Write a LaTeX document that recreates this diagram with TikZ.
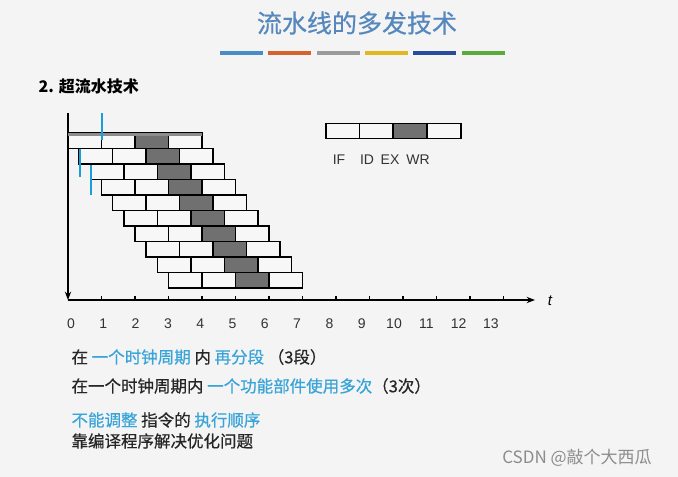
\documentclass[tikz,border=0pt]{standalone}
\usepackage{fontspec}
\setmainfont{Liberation Sans}
\newfontfamily\cjk{Noto Sans CJK SC}
\newfontfamily\cjkmed[FakeBold=0.6]{Noto Sans CJK SC}
\usetikzlibrary{arrows.meta}

\definecolor{bgcol}{RGB}{244,244,244}
\definecolor{titleblue}{RGB}{86,136,190}
\definecolor{hiblue}{RGB}{56,164,216}
\definecolor{markblue}{RGB}{25,158,220}
\definecolor{exgray}{RGB}{112,112,112}
\definecolor{barblue}{RGB}{74,140,198}
\definecolor{barorange}{RGB}{210,100,45}
\definecolor{bargray}{RGB}{155,155,155}
\definecolor{baryellow}{RGB}{225,185,30}
\definecolor{bardarkblue}{RGB}{40,75,155}
\definecolor{bargreen}{RGB}{90,170,60}

\tikzset{
  cell/.style={draw, line width=1.6pt, fill=white!97!black},
  excell/.style={cell, fill=exgray},
  bodytext/.style={anchor=west, font=\cjkmed\fontsize{16.5}{20}\selectfont, text=black!85},
  ticklabel/.style={font=\fontsize{14}{16}\selectfont, text=black!80}
}

\begin{document}
\begin{tikzpicture}[x=1pt, y=-1pt, >=Stealth]
  % Background
  \fill[bgcol] (0,0) rectangle (678,477);
  \useasboundingbox (0,0) rectangle (678,477);

  % Title and colour bars
  \node[text=titleblue, font=\cjkmed\fontsize{25}{30}\selectfont] (title) at (357,23) {流水线的多发技术};
  \foreach \c [count=\i from 0] in {barblue,barorange,bargray,baryellow,bardarkblue,bargreen}
    \fill[\c] (220+\i*48.3,51) rectangle ++(43,4);

  % Heading
  \node[anchor=west, font=\cjk\bfseries\fontsize{16}{19}\selectfont] (heading) at (35,86) {2. 超流水技术};

  % Axes
  \coordinate (ytop) at (68,113);
  \coordinate (origin) at (68,300);
  \coordinate (xend) at (535,300);
  \draw[->, line width=1.2pt] (ytop) -- (origin);
  \draw[->, line width=1.2pt] (origin) -- (xend);
  \node[font=\itshape\fontsize{15}{18}\selectfont] (tlabel) at (550,301) {t};
  \foreach \k in {1,...,13}
    \draw[line width=1.2pt] (68+\k*33.5,296) -- (68+\k*33.5,300);
  \foreach \k in {0,...,13}
    \node[ticklabel] (n\k) at (71+\k*32.3,324) {\k};

  % Pipeline rows
  \foreach \r in {0,...,9}
    \foreach \s in {0,...,3}
      \draw[cell] (68+\r*11.17+\s*33.5,133+\r*15.5) rectangle ++(33.5,15.5);
  \foreach \r in {0,...,9}
    \draw[excell] (68+\r*11.17+67,133+\r*15.5) rectangle ++(33.5,15.5);
  \draw[black!45, line width=3pt] (68,134.5) -- (202,134.5);

  % Blue marks
  \draw[markblue, line width=2pt] (101.5,113) -- (101.5,140);
  \draw[markblue, line width=2pt] (79.8,149) -- (79.8,177);
  \draw[markblue, line width=2pt] (90.7,165) -- (90.7,195);

  % Legend
  \foreach \s in {0,...,3}
    \draw[cell] (325.7+\s*33.75,123.3) rectangle ++(33.75,15);
  \draw[excell] (325.7+67.5,123.3) rectangle ++(33.75,15);
  \node[ticklabel] (lif) at (339,160) {IF};
  \node[ticklabel] (lid) at (367,160) {ID};
  \node[ticklabel] (lex) at (390,160) {EX};
  \node[ticklabel] (lwr) at (418,160) {WR};

  % Notes
  \node[bodytext] (line1) at (68,357) {在\ \textcolor{hiblue}{一个时钟周期}\ 内\ \textcolor{hiblue}{再分段}\ （3段）};
  \node[bodytext] (line2) at (68,386) {在一个时钟周期内\ \textcolor{hiblue}{一个功能部件使用多次}（3次）};
  \node[bodytext] (line3) at (68,420) {\textcolor{hiblue}{不能调整}\ 指令的\ \textcolor{hiblue}{执行顺序}};
  \node[bodytext] (line4) at (68,441) {靠编译程序解决优化问题};

  % Watermark
  \node[text=black!45, font=\cjk\fontsize{17}{20}\selectfont] (mark) at (577,458) {CSDN @敲个大西瓜};
\end{tikzpicture}
\end{document}
